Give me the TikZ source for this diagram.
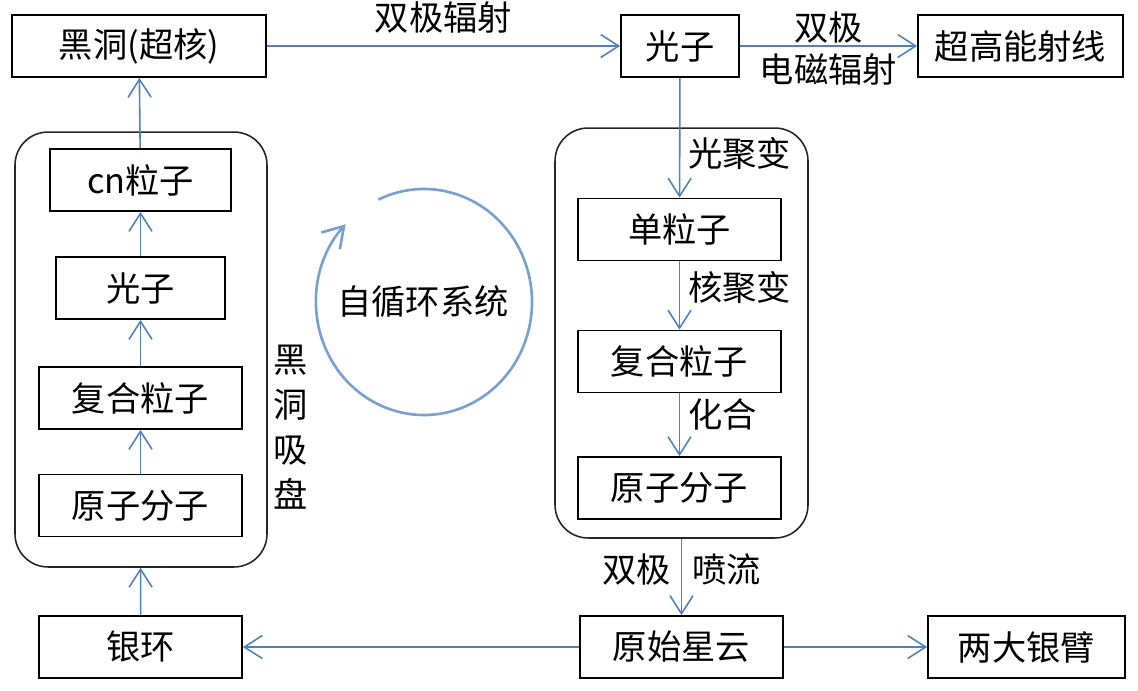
\documentclass[tikz,border=0pt]{standalone}
\usepackage{fontspec}
\setmainfont{Noto Sans CJK SC}
\usetikzlibrary{arrows.meta,positioning}
\definecolor{linkblue}{RGB}{79,129,189}
\definecolor{cycleblue}{RGB}{122,160,210}

\begin{document}
\begin{tikzpicture}[
    x=0.02cm, y=-0.02cm,
    every node/.style={font=\fontsize{19.5}{22}\selectfont, text=black},
    box/.style={draw=black, line width=1pt, inner sep=0pt, minimum height=1.24cm},
    group/.style={draw=black!85, line width=0.9pt, rounded corners=0.66cm, inner sep=0pt},
    flow/.style={-{Straight Barb[length=0.36cm, width=0.46cm]}, linkblue, line width=0.9pt},
    cycle/.style={-{Straight Barb[length=0.4cm, width=0.5cm]}, cycleblue, line width=1.5pt}
]
\useasboundingbox (0,0) rectangle (1138,690);
\node[box, minimum width=5.08cm] (hole) at (139,46) {黑洞(超核)};
\node[box, minimum width=2.36cm] (photontop) at (680,46) {光子};
\node[box, minimum width=4.1cm] (rays) at (1020.5,46) {超高能射线};
\node[group, minimum width=5.04cm, minimum height=8.7cm] (disk) at (141,349.5) {};
\node[box, minimum width=3.62cm] (cn) at (140.5,180) {cn粒子};
\node[box, minimum width=3.38cm] (photonleft) at (140.5,288) {光子};
\node[box, minimum width=4.06cm] (compleft) at (140.5,398) {复合粒子};
\node[box, minimum width=4.06cm] (atomleft) at (140.5,505.5) {原子分子};
\node[align=center, font=\fontsize{19.5}{0.9cm}\selectfont] (disklabel) at (291,427) {黑\\洞\\吸\\盘};
\node[box, minimum width=4.06cm] (ring) at (140.5,647) {银环};
\node[box, minimum width=4.06cm] (nebula) at (681.5,647) {原始星云};
\node[box, minimum width=3.94cm] (arms) at (1026.5,647) {两大银臂};
\node[group, minimum width=5.06cm, minimum height=8.2cm] (fusion) at (681.5,333) {};
\node[box, minimum width=4.06cm] (single) at (679.5,229.5) {单粒子};
\node[box, minimum width=4.06cm] (compright) at (679.5,361.5) {复合粒子};
\node[box, minimum width=4.06cm] (atomright) at (679.5,488) {原子分子};
\node (selfloop) at (423,302) {自循环系统};
\draw[flow] (hole) -- node[above=0.12cm] (radlabel) {双极辐射} (photontop);
\draw[flow] (photontop) -- node[above=-0.07cm] (bipolar) {双极} node[below=0.02cm] (emlabel) {电磁辐射} (rays);
\draw[flow] (photontop) -- node[pos=0.63, right=0.04cm] (photofusion) {光聚变} (single);
\draw[flow] (single) -- node[pos=0.38, right=0.04cm] (nuclfusion) {核聚变} (compright);
\draw[flow] (compright) -- node[pos=0.33, right=0.04cm] (combine) {化合} (atomright);
\draw[flow] (fusion) -- node[pos=0.4, left=0.08cm] (jetleft) {双极} node[pos=0.4, right=0.08cm] (jetright) {喷流} (nebula);
\draw[flow] (nebula) -- (ring);
\draw[flow] (nebula) -- (arms);
\draw[flow] (ring) -- (disk);
\draw[flow] (atomleft) -- (compleft);
\draw[flow] (compleft) -- (photonleft);
\draw[flow] (photonleft) -- (cn);
\draw[flow] (cn) -- (hole);
\draw[cycle] (424,302) ++(-115:108 and 113) arc[start angle=-115, end angle=223.5, x radius=108, y radius=113];
\end{tikzpicture}
\end{document}
